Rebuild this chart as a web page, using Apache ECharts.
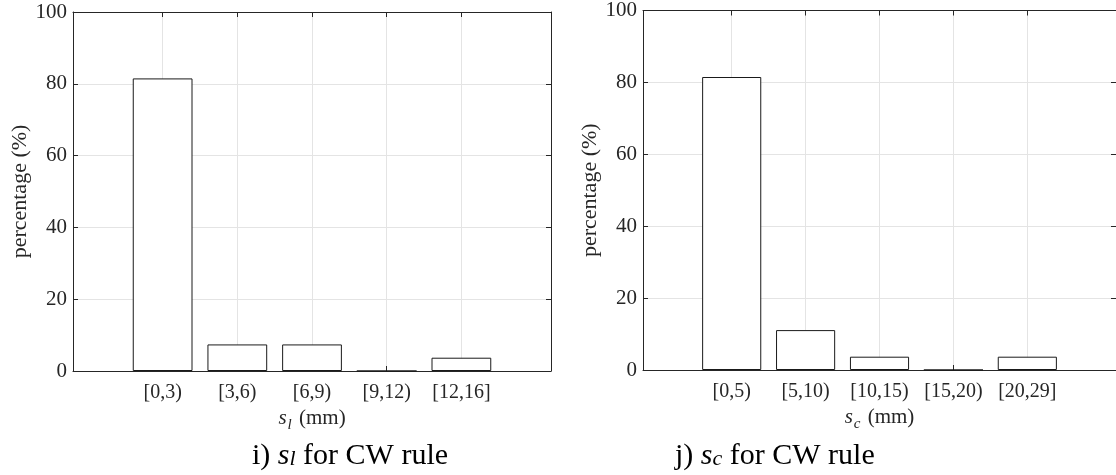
<!DOCTYPE html>
<html><head><meta charset="utf-8">
<script src="https://cdn.jsdelivr.net/npm/echarts@6/dist/echarts.min.js"></script>
<style>html,body{margin:0;padding:0;background:#fff}#c{width:1116px;height:475px}</style>
</head><body><div id="c"></div>
<script>
// ---- data ----
const catsL = ['[0,3)', '[3,6)', '[6,9)', '[9,12)', '[12,16]'];
const valsL = [81.5, 7.4, 7.4, 0, 3.7];
const catsR = ['[0,5)', '[5,10)', '[10,15)', '[15,20)', '[20,29]'];
const valsR = [81.5, 11.1, 3.7, 0, 3.7];
const positions = [1, 2, 3, 4, 5];
const yTicks = [0, 20, 40, 60, 80, 100];

const FONT = '"Liberation Serif","Times New Roman",serif';
const INK = '#262626';
const GRIDC = '#e4e4e4';

const grids = [
  {left: 73, top: 12, width: 478, height: 359},
  {left: 643, top: 10, width: 478, height: 360}
];

function makeX(gi, cats, sub) {
  return [{
    type: 'value', gridIndex: gi, min: -0.2, max: 6.2, position: 'bottom',
    axisLine: {show: true, onZero: false, lineStyle: {color: INK, width: 1}},
    axisTick: {show: true, inside: true, length: 5, customValues: positions, lineStyle: {color: INK}},
    axisLabel: {show: true, customValues: positions, formatter: v => cats[Math.round(v) - 1] || '',
      fontFamily: FONT, fontSize: 20, color: INK, margin: 12},
    splitLine: {show: true, lineStyle: {color: GRIDC}},
    name: '{it|s}{sub|' + sub + '} (mm)', nameLocation: 'middle', nameGap: 33,
    nameTextStyle: {fontFamily: FONT, fontSize: 21, color: INK,
      rich: {it: {fontFamily: FONT, fontSize: 21, fontStyle: 'italic', color: INK},
             sub: {fontFamily: FONT, fontSize: 15, fontStyle: 'italic', color: INK, padding: [14, 2, 0, 1]}}}
  }, {
    type: 'value', gridIndex: gi, min: -0.2, max: 6.2, position: 'top',
    axisLine: {show: true, onZero: false, lineStyle: {color: INK, width: 1}},
    axisTick: {show: true, inside: true, length: 5, customValues: positions, lineStyle: {color: INK}},
    axisLabel: {show: false}, splitLine: {show: false}
  }];
}
function makeY(gi) {
  return [{
    type: 'value', gridIndex: gi, min: yTicks[0], max: yTicks[yTicks.length - 1], interval: 20, position: 'left',
    axisLine: {show: true, onZero: false, lineStyle: {color: INK, width: 1}},
    axisTick: {show: true, inside: true, length: 5, lineStyle: {color: INK}},
    axisLabel: {fontFamily: FONT, fontSize: 21, color: INK, margin: 6},
    splitLine: {show: true, lineStyle: {color: GRIDC}},
    name: 'percentage (%)', nameLocation: 'middle', nameGap: 42,
    nameTextStyle: {fontFamily: FONT, fontSize: 22, color: INK}
  }, {
    type: 'value', gridIndex: gi, min: yTicks[0], max: yTicks[yTicks.length - 1], interval: 20, position: 'right',
    axisLine: {show: true, onZero: false, lineStyle: {color: INK, width: 1}},
    axisTick: {show: true, inside: true, length: 5, lineStyle: {color: INK}},
    axisLabel: {show: false}, splitLine: {show: false}
  }];
}
function barSeries(xi, yi, vals) {
  return {
    type: 'bar', xAxisIndex: xi, yAxisIndex: yi, barWidth: '80%', silent: true,
    data: positions.map((p, i) => [p, vals[i]]),
    itemStyle: {color: '#ffffff', borderColor: '#1a1a1a', borderWidth: 1}
  };
}
const capStyle = {
  fontFamily: FONT, fontSize: 30, color: '#000', fontWeight: 'normal',
  rich: {it: {fontFamily: FONT, fontSize: 30, fontStyle: 'italic', color: '#000'},
         sub: {fontFamily: FONT, fontSize: 22, fontStyle: 'italic', color: '#000', padding: [6, 0, 0, 0]}}
};
const chart = echarts.init(document.getElementById('c'), null, {renderer: 'canvas'});
chart.setOption({
  animation: false,
  backgroundColor: '#fff',
  grid: grids,
  title: [
    {left: 247, top: 436, text: 'i) {it|s}{sub|l} for CW rule', textStyle: capStyle},
    {left: 670, top: 436, text: 'j) {it|s}{sub|c} for CW rule', textStyle: capStyle}
  ],
  xAxis: [...makeX(0, catsL, 'l'), ...makeX(1, catsR, 'c')],
  yAxis: [...makeY(0), ...makeY(1)],
  series: [barSeries(0, 0, valsL), barSeries(2, 2, valsR)]
});
</script></body></html>
